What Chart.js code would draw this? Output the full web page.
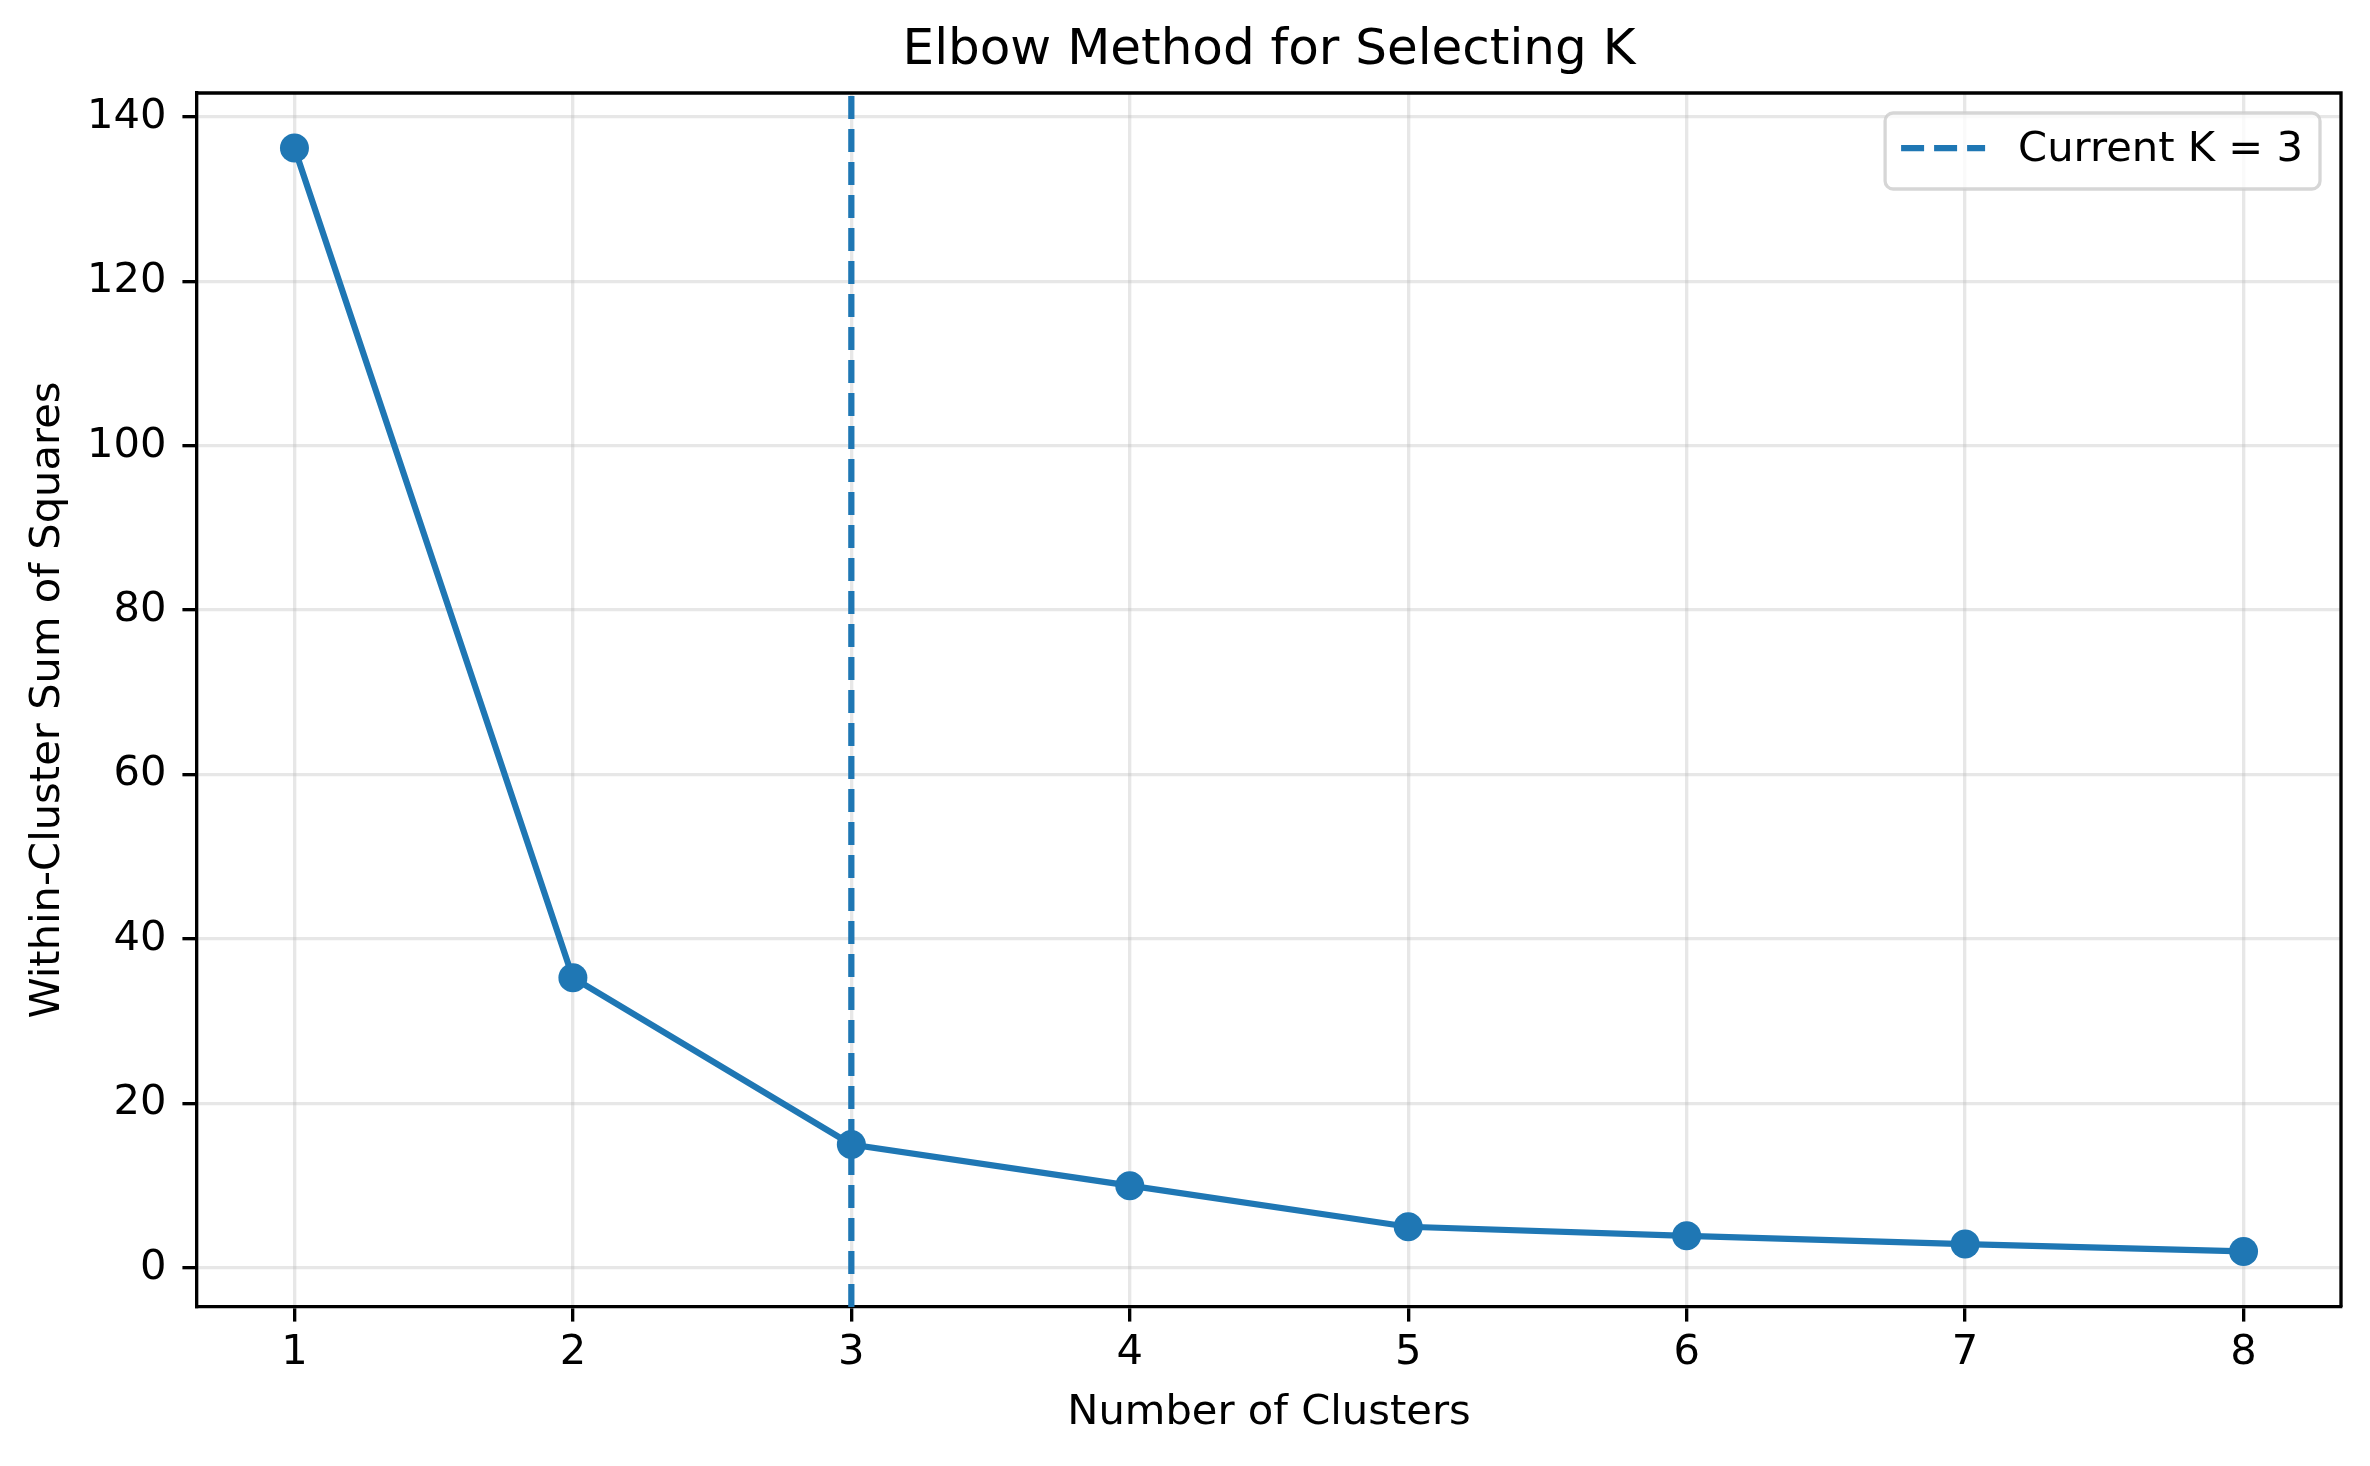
<!DOCTYPE html>
<html>
<head>
<meta charset="utf-8">
<title>Elbow Method for Selecting K</title>
<script src="https://cdn.jsdelivr.net/npm/chart.js@4"></script>
<style>
  html, body { margin: 0; padding: 0; background: #fff; }
  #elbow { display: block; }
</style>
</head>
<body>
<canvas id="elbow" width="2370" height="1466"></canvas>
<script>
// values
const clusterCounts = [1, 2, 3, 4, 5, 6, 7, 8];
const wcssValues = [136.2, 35.3, 15.0, 10.0, 5.0, 3.9, 2.9, 2.0];
const currentK = 3;
const xTicks = [1, 2, 3, 4, 5, 6, 7, 8];
const yTicks = [0, 20, 40, 60, 80, 100, 120, 140];
const xRange = [0.65, 8.35];
const yRange = [-4.76, 142.9];

const blue = '#1f77b4';
const font = 'DejaVu Sans';
const pt = 300 / 72; // matplotlib figure at 300 dpi

// matplotlib-ish top/right spines
const spinesPlugin = {
    id: 'spines',
    afterDraw(chart) {
        const { ctx, chartArea: a } = chart;
        ctx.save();
        ctx.strokeStyle = '#000';
        ctx.lineWidth = 0.8 * pt;
        ctx.beginPath();
        ctx.moveTo(a.left, a.top);
        ctx.lineTo(a.right, a.top);
        ctx.lineTo(a.right, a.bottom);
        ctx.stroke();
        ctx.restore();
    }
};

// legend box in the upper right corner of the axes
const innerLegend = {
    id: 'innerLegend',
    afterDatasetsDraw(chart) {
        const { ctx, chartArea: a } = chart;
        const ds = chart.data.datasets[1];
        ctx.save();
        ctx.font = (10 * pt) + 'px "' + font + '"';
        const textW = ctx.measureText(ds.label).width;
        const w = textW + 150;
        const h = 76;
        const x = a.right - 21 - w;
        const y = a.top + 20;
        ctx.beginPath();
        ctx.roundRect(x, y, w, h, 8);
        ctx.fillStyle = 'rgba(255,255,255,0.8)';
        ctx.fill();
        ctx.strokeStyle = 'rgba(204,204,204,0.8)';
        ctx.lineWidth = 3.3;
        ctx.stroke();
        ctx.beginPath();
        ctx.setLineDash(ds.borderDash);
        ctx.strokeStyle = ds.borderColor;
        ctx.lineWidth = ds.borderWidth;
        ctx.moveTo(x + 16, y + 35);
        ctx.lineTo(x + 100, y + 35);
        ctx.stroke();
        ctx.setLineDash([]);
        ctx.fillStyle = '#000';
        ctx.textBaseline = 'middle';
        ctx.textAlign = 'left';
        ctx.fillText(ds.label, x + 133, y + 37);
        ctx.restore();
    }
};

const tickFont = { family: font, size: 10 * pt };

new Chart(document.getElementById('elbow'), {
    type: 'line',
    data: {
        datasets: [
            {
                label: 'WCSS',
                data: clusterCounts.map((k, i) => ({ x: k, y: wcssValues[i] })),
                borderColor: blue,
                backgroundColor: blue,
                borderWidth: 1.5 * pt,
                pointRadius: 14.5,
                pointBorderWidth: 0,
                pointBackgroundColor: blue,
                tension: 0,
                order: 1
            },
            {
                label: 'Current K = ' + currentK,
                data: [{ x: currentK, y: yRange[0] }, { x: currentK, y: yRange[1] }],
                borderColor: blue,
                borderWidth: 1.5 * pt,
                borderDash: [23, 10],
                pointRadius: 0,
                order: 0
            }
        ]
    },
    options: {
        responsive: false,
        devicePixelRatio: 1,
        animation: false,
        layout: { padding: { left: 0, right: 29, top: 0, bottom: 0 } },
        plugins: {
            legend: { display: false },
            tooltip: { enabled: false },
            title: {
                display: true,
                fullSize: false,
                text: 'Elbow Method for Selecting K',
                color: '#000',
                font: { family: font, size: 12 * pt, weight: 'normal' },
                padding: { top: 21, bottom: 12 }
            }
        },
        scales: {
            x: {
                type: 'linear',
                min: xRange[0],
                max: xRange[1],
                afterBuildTicks: s => { s.ticks = xTicks.map(v => ({ value: v })); },
                afterFit: s => { s.height = 159; },
                ticks: { color: '#000', font: tickFont, padding: 7, maxRotation: 0 },
                grid: {
                    color: 'rgba(176,176,176,0.3)',
                    lineWidth: 0.8 * pt,
                    tickColor: '#000',
                    tickLength: 3.5 * pt,
                    tickWidth: 0.8 * pt
                },
                border: { display: true, color: '#000', width: 0.8 * pt },
                title: {
                    display: true,
                    text: 'Number of Clusters',
                    color: '#000',
                    font: tickFont,
                    padding: { top: 0, bottom: 28 }
                }
            },
            y: {
                type: 'linear',
                min: yRange[0],
                max: yRange[1],
                afterBuildTicks: s => { s.ticks = yTicks.map(v => ({ value: v })); },
                afterFit: s => { s.width = 197; },
                ticks: { color: '#000', font: tickFont, padding: 16 },
                grid: {
                    color: 'rgba(176,176,176,0.3)',
                    lineWidth: 0.8 * pt,
                    tickColor: '#000',
                    tickLength: 3.5 * pt,
                    tickWidth: 0.8 * pt
                },
                border: { display: true, color: '#000', width: 0.8 * pt },
                title: {
                    display: true,
                    text: 'Within-Cluster Sum of Squares',
                    color: '#000',
                    font: tickFont,
                    padding: { top: 23, bottom: 0 }
                }
            }
        }
    },
    plugins: [innerLegend, spinesPlugin]
});
</script>
</body>
</html>
